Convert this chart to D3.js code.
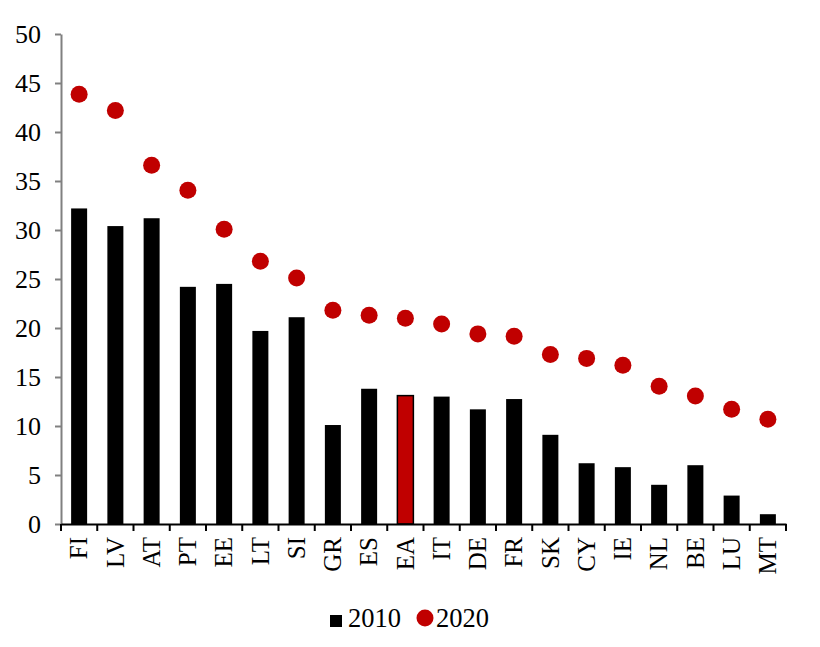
<!DOCTYPE html>
<html><head><meta charset="utf-8">
<script src="https://cdn.jsdelivr.net/npm/d3@7"></script>
<style>body{margin:0;background:#fff}</style>
</head><body>
<svg id="chart" width="820" height="647"></svg>
<script>
const categories = ["FI","LV","AT","PT","EE","LT","SI","GR","ES","EA","IT","DE","FR","SK","CY","IE","NL","BE","LU","MT"];
const values2010 = [32.2,30.4,31.2,24.2,24.5,19.7,21.1,10.1,13.8,13.1,13.0,11.7,12.75,9.1,6.2,5.8,4.0,6.0,2.9,1.0];
const values2020 = [43.85,42.2,36.6,34.05,30.07,26.8,25.1,21.8,21.3,21.0,20.4,19.4,19.15,17.3,16.9,16.2,14.05,13.05,11.7,10.7];
const yTicks = [0,5,10,15,20,25,30,35,40,45,50];
const seriesNames = ["2010","2020"];
const highlight = "EA";

(function(){
const red = "#C00000";
const font = "'Liberation Serif','Times New Roman',serif";
const svg = d3.select("#chart");
const mLeft = 61, mRight = 786, mTop = 34, mBottom = 524;

const xb = d3.scaleBand().domain(categories).range([mLeft, mRight]);
const y = d3.scaleLinear().domain([0,50]).range([mBottom, mTop]);

// bars
svg.append("g").selectAll("rect").data(categories).join("rect")
  .attr("x", (d)=>xb(d)+xb.bandwidth()/2-8)
  .attr("width", 16)
  .attr("y", (d,i)=>y(values2010[i]))
  .attr("height", (d,i)=>y(0)-y(values2010[i]))
  .attr("fill", d=>d===highlight?red:"#000")
  .attr("stroke", d=>d===highlight?"#000":"none")
  .attr("stroke-width", 1.5);

// y axis
const ya = svg.append("g").attr("transform",`translate(${mLeft},0)`)
  .call(d3.axisLeft(y).tickValues(yTicks).tickSize(6).tickPadding(14).tickSizeOuter(0));
ya.select(".domain").attr("stroke","#808080").attr("stroke-width",2);
ya.selectAll(".tick line").attr("stroke","#808080").attr("stroke-width",2);
ya.selectAll("text").attr("font-family",font).attr("font-size",26).attr("fill","#000").attr("dy","0.33em");

// x axis
const xa = svg.append("g").attr("transform",`translate(0,${mBottom})`)
  .call(d3.axisBottom(xb).tickSize(0).tickSizeOuter(0));
xa.select(".domain").attr("stroke","#000").attr("stroke-width",2);
xa.selectAll(".tick text")
  .attr("font-family",font).attr("font-size",25).attr("fill","#000")
  .attr("transform","rotate(-90)")
  .attr("text-anchor","end")
  .attr("dy","0.33em")
  .attr("x",-13).attr("y",0);
// boundary ticks
const bounds = categories.map(d=>xb(d)).concat([mRight]);
svg.append("g").selectAll("line").data(bounds).join("line")
  .attr("x1",d=>d).attr("x2",d=>d)
  .attr("y1",mBottom).attr("y2",mBottom+7)
  .attr("stroke","#000").attr("stroke-width",2);

// dots
svg.append("g").selectAll("circle").data(categories).join("circle")
  .attr("cx", d=>xb(d)+xb.bandwidth()/2)
  .attr("cy", (d,i)=>y(values2020[i]))
  .attr("r", 8.5)
  .attr("fill", red);

// legend
const lg = svg.append("g").attr("font-family",font).attr("font-size",26.5);
lg.append("rect").attr("x",330).attr("y",615).attr("width",12).attr("height",12).attr("fill","#000");
lg.append("text").attr("x",348).attr("y",627).text(seriesNames[0]);
lg.append("circle").attr("cx",425).attr("cy",618).attr("r",8.5).attr("fill",red);
lg.append("text").attr("x",436).attr("y",627).text(seriesNames[1]);
})();
</script>
</body></html>
